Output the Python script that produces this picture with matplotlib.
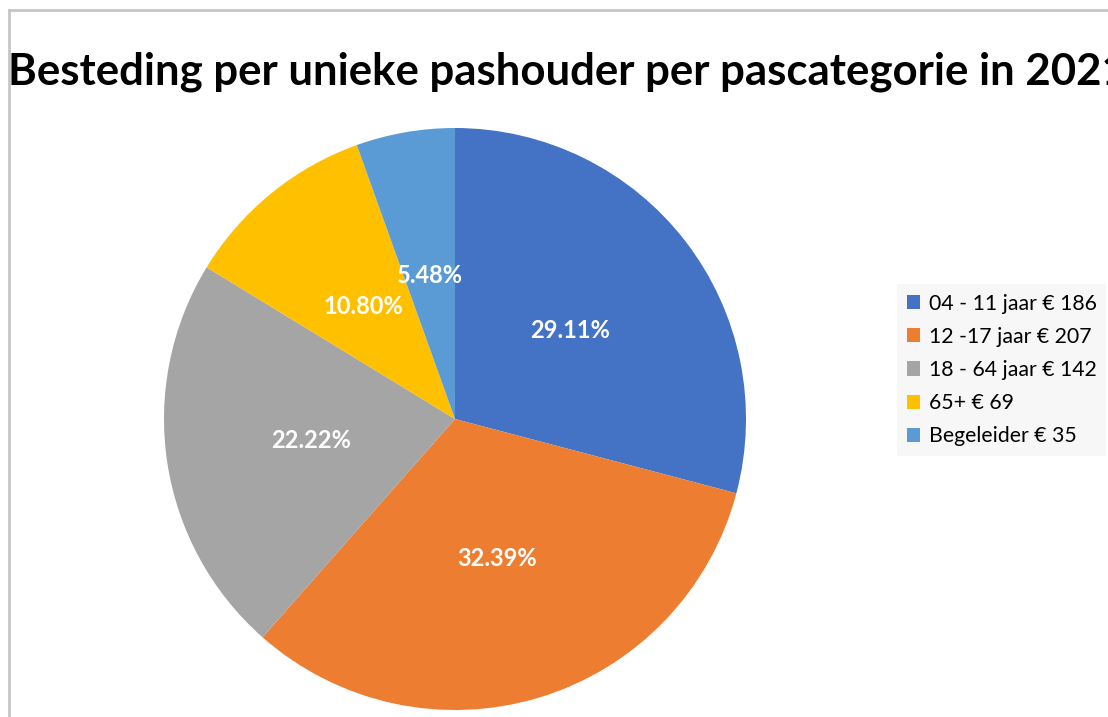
import matplotlib
matplotlib.use("Agg")
import matplotlib.pyplot as plt
from matplotlib.lines import Line2D
from matplotlib.patches import Patch

categories = ["04 - 11 jaar € 186", "12 -17 jaar € 207", "18 - 64 jaar € 142",
              "65+ € 69", "Begeleider € 35"]
values = [186, 207, 142, 69, 35]
colors = ["#4472C4", "#ED7D31", "#A5A5A5", "#FFC000", "#5B9BD5"]
title = "Besteding per unieke pashouder per pascategorie in 2021"

plt.rcParams["font.family"] = ["Lato", "DejaVu Sans"]

W, H = 1108, 717
fig = plt.figure(figsize=(W / 100, H / 100), dpi=100)

# pie axes: centre (455, 419) px, radius 291 px
cx, cy, r = 455, 419, 291
ax = fig.add_axes([(cx - r) / W, (H - cy - r) / H, 2 * r / W, 2 * r / H])
wedges, texts, autotexts = ax.pie(
    values, colors=colors, startangle=90, counterclock=False,
    autopct="%1.2f%%", pctdistance=0.5, radius=1.0,
    textprops=dict(color="white", fontsize=17, fontweight="bold"),
)
ax.set_xlim(-1, 1)
ax.set_ylim(-1, 1)
ax.set_aspect("equal")

fig.text(8 / W, 1 - 84 / H, title, fontsize=31.5, fontweight="bold",
         ha="left", va="baseline", color="black")

handles = [Patch(facecolor=c, edgecolor="none") for c in colors]
leg = fig.legend(handles, categories, loc="upper left",
                 bbox_to_anchor=(897 / W, 1 - 284 / H),
                 fontsize=15.3, frameon=True, fancybox=False,
                 handlelength=0.65, handleheight=0.65, handletextpad=0.4,
                 labelspacing=0.62, borderpad=0.45, borderaxespad=0)
leg.get_frame().set_facecolor("#f6f6f6")
leg.get_frame().set_edgecolor("none")

# chart border (left and top edges visible)
border = "#c6c6c6"
fig.add_artist(Line2D([9 / W, 9 / W], [0, 1 - 10 / H], color=border, lw=2))
fig.add_artist(Line2D([9 / W, 1], [1 - 10 / H, 1 - 10 / H], color=border, lw=2))

fig.savefig("out.png", dpi=100)
